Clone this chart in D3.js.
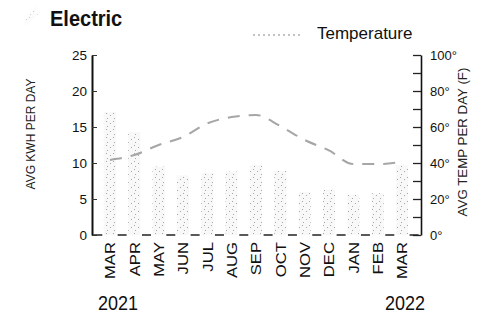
<!DOCTYPE html>
<html>
<head>
<meta charset="utf-8">
<script src="https://cdn.jsdelivr.net/npm/d3@7"></script>
<style>
  body { margin: 0; background: #fff; }
  svg { display: block; font-family: "Liberation Sans", Arial, sans-serif; }
</style>
</head>
<body>
<div id="chart"></div>
<script>
var svgWidth = 483;
var svgHeight = 314;

// data
var months = ["MAR", "APR", "MAY", "JUN", "JUL", "AUG", "SEP", "OCT", "NOV", "DEC", "JAN", "FEB", "MAR"];
var kwh = [17.1, 14.3, 9.5, 8.3, 8.6, 8.8, 9.7, 8.9, 6.0, 6.25, 5.6, 5.8, 9.7];
var temps = [41.7, 44.4, 50, 54.4, 62, 65.5, 66.7, 60.5, 52.8, 47, 39.4, 39.4, 40.6];
var kwhTicks = [0, 5, 10, 15, 20, 25];
var tempTicks = [0, 10, 20, 30, 40, 50, 60, 70, 80, 90, 100];
var years = ["2021", "2022"];

var plot = { left: 92, right: 421, top: 55, bottom: 235 };

var svg = d3.select("#chart")
  .append("svg")
  .attr("width", svgWidth)
  .attr("height", svgHeight);

// stipple texture for the bars
var defs = svg.append("defs");
var pat = defs.append("pattern")
  .attr("id", "stipple")
  .attr("patternUnits", "userSpaceOnUse")
  .attr("width", 7)
  .attr("height", 8);
pat.append("rect").attr("width", 7).attr("height", 8).attr("fill", "#f8f8f8");
[[1, 1], [5, 3], [2, 6]].forEach(function(p) {
  pat.append("rect").attr("x", p[0]).attr("y", p[1]).attr("width", 1).attr("height", 1).attr("fill", "#a8a8a8");
});

var x = d3.scaleBand()
  .domain(d3.range(months.length))
  .range([97.8, 414.1])
  .paddingInner(0.5)
  .paddingOuter(0.25);

var yLeft = d3.scaleLinear().domain([0, 25]).range([plot.bottom, plot.top]);
var yRight = d3.scaleLinear().domain([0, 100]).range([plot.bottom, plot.top]);

// faint mark near the title
svg.append("path")
  .attr("d", "M24,22 L38,4 L34,14 L40,12 L26,26 Z")
  .attr("fill", "url(#stipple)")
  .attr("opacity", 0.6);

//bars
svg.selectAll(".bar")
  .data(kwh)
  .enter()
  .append("rect")
  .attr("class", "bar")
  .attr("x", (d, i) => x(i))
  .attr("width", x.bandwidth())
  .attr("y", d => yLeft(d))
  .attr("height", d => yLeft(0) - yLeft(d))
  .attr("fill", "url(#stipple)");

// baseline dashes between bars
var step = x.step();
svg.selectAll(".base")
  .data(d3.range(months.length + 1))
  .enter()
  .append("line")
  .attr("class", "base")
  .attr("x1", i => x(0) - (step - x.bandwidth()) / 2 + i * step - 4.5)
  .attr("x2", i => x(0) - (step - x.bandwidth()) / 2 + i * step + 4.5)
  .attr("y1", yLeft(0))
  .attr("y2", yLeft(0))
  .attr("stroke", "#222")
  .attr("stroke-width", 1.5);

// temperature line
var line = d3.line()
  .x((d, i) => x(i) + x.bandwidth() / 2)
  .y(d => yRight(d))
  .curve(d3.curveMonotoneX);

svg.append("path")
  .datum(temps)
  .attr("d", line)
  .attr("fill", "none")
  .attr("stroke", "#a6a6a6")
  .attr("stroke-width", 2)
  .attr("stroke-dasharray", "12,9");

// left axis
var leftAxis = d3.axisLeft(yLeft)
  .tickValues(kwhTicks)
  .tickSize(-5)
  .tickSizeOuter(0)
  .tickPadding(5);

var gL = svg.append("g")
  .attr("transform", `translate(${plot.left},0)`)
  .call(leftAxis);
gL.select(".domain").attr("stroke", "#111").attr("stroke-width", 2);
gL.selectAll(".tick line").attr("stroke", "#333");
gL.selectAll("text").attr("font-size", 13.5).attr("fill", "#111");

// right axis
var rightAxis = d3.axisRight(yRight)
  .tickValues(tempTicks)
  .tickSize(-8)
  .tickSizeOuter(0)
  .tickPadding(9)
  .tickFormat(d => d % 20 === 0 ? d + "°" : "");

var gR = svg.append("g")
  .attr("transform", `translate(${plot.right},0)`)
  .call(rightAxis);
gR.select(".domain").attr("stroke", "#111").attr("stroke-width", 1.6);
gR.selectAll(".tick line").attr("stroke", "#222").attr("stroke-width", 1.3);
gR.selectAll("text").attr("font-size", 13).attr("fill", "#111");

// month labels
svg.selectAll(".month")
  .data(months)
  .enter()
  .append("text")
  .attr("class", "month")
  .attr("transform", (d, i) => `translate(${x(i) + x.bandwidth() / 2 + 5.5},242) rotate(-90) scale(1.15,1)`)
  .attr("text-anchor", "end")
  .attr("font-size", 14.5)
  .attr("fill", "#111")
  .text(d => d);

// years
svg.append("text")
  .attr("transform", "translate(98,310) scale(1,1.13)")
  .attr("font-size", 18)
  .attr("fill", "#111")
  .text(years[0]);
svg.append("text")
  .attr("transform", "translate(385,310) scale(1,1.13)")
  .attr("font-size", 18)
  .attr("fill", "#111")
  .text(years[1]);

// title
svg.append("text")
  .attr("transform", "translate(50,26) scale(1,1.1)")
  .attr("font-size", 20)
  .attr("font-weight", "bold")
  .attr("fill", "#111")
  .text("Electric");

// legend
svg.append("line")
  .attr("x1", 253).attr("x2", 303)
  .attr("y1", 35).attr("y2", 35)
  .attr("stroke", "#b0b0b0")
  .attr("stroke-width", 1.5)
  .attr("stroke-dasharray", "2,3");
svg.append("text")
  .attr("x", 317)
  .attr("y", 39)
  .attr("font-size", 17)
  .attr("fill", "#111")
  .text("Temperature");

// axis titles
svg.append("text")
  .attr("transform", "translate(35,134) rotate(-90)")
  .attr("text-anchor", "middle")
  .attr("font-size", 12)
  .attr("fill", "#222")
  .text("AVG KWH PER DAY");

svg.append("text")
  .attr("transform", "translate(467,142) rotate(-90)")
  .attr("text-anchor", "middle")
  .attr("font-size", 13.3)
  .attr("fill", "#222")
  .text("AVG TEMP PER DAY (F)");
</script>
</body>
</html>
